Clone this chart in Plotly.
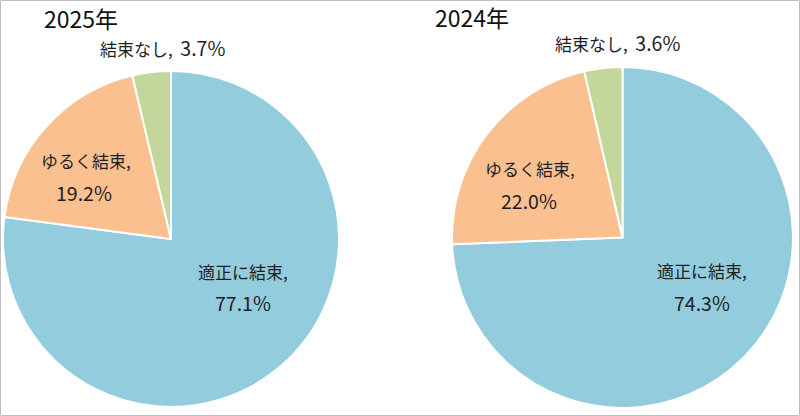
import plotly.graph_objects as go

# Data
years = ["2025年", "2024年"]
categories = ["適正に結束", "ゆるく結束", "結束なし"]
values_2025 = [77.1, 19.2, 3.7]
values_2024 = [74.3, 22.0, 3.6]
colors = ["#93CDDD", "#FAC090", "#C4D79B"]

W, H = 800, 416
FONT = "Noto Sans CJK JP"
TXT = "#1F1F1F"

def px(x):
    return x / W

def py(y):
    return 1 - y / H

fig = go.Figure()

pies = [
    (values_2025, [px(3), px(339)], [py(407), py(71)]),
    (values_2024, [px(452), px(793)], [py(408), py(67)]),
]
for vals, dx, dy in pies:
    fig.add_trace(go.Pie(
        labels=categories, values=vals, sort=False, direction="clockwise",
        rotation=0, textinfo="none", hoverinfo="label+percent",
        marker=dict(colors=colors, line=dict(color="white", width=2)),
        domain=dict(x=dx, y=dy), showlegend=False,
    ))

# Label positions (pixels) for each year
label_pos = [
    [((243, 271), (243, 302)), ((86, 160), (84, 192)), None],
    [((702, 270), (702, 302)), ((530, 168), (529, 200)), None],
]
outside_pos = [(162, 47), (617, 43)]
title_pos = [(42, 18), (433, 17)]

def num_span(v):
    return f"<span style='font-size:19.5px'>{v:.1f}%</span>"

annotations = []
for i, (yr, vals) in enumerate(zip(years, [values_2025, values_2024])):
    tx, ty = title_pos[i]
    annotations.append(dict(text=yr, x=px(tx), y=py(ty), xref="paper", yref="paper",
                            xanchor="left", yanchor="middle", showarrow=False,
                            font=dict(family=FONT, size=23, color="#111111")))
    for j, cat in enumerate(categories):
        pos = label_pos[i][j]
        if pos is None:
            ox, oy = outside_pos[i]
            annotations.append(dict(text=f"{cat},\u00a0\u00a0{num_span(vals[j])}", x=px(ox), y=py(oy),
                                    xref="paper", yref="paper", showarrow=False,
                                    xanchor="center", yanchor="middle",
                                    font=dict(family=FONT, size=17, color=TXT)))
        else:
            (nx, ny), (vx, vy) = pos
            annotations.append(dict(text=f"{cat},", x=px(nx), y=py(ny),
                                    xref="paper", yref="paper", showarrow=False,
                                    xanchor="center", yanchor="middle",
                                    font=dict(family=FONT, size=17, color=TXT)))
            annotations.append(dict(text=f"{vals[j]:.1f}%", x=px(vx), y=py(vy),
                                    xref="paper", yref="paper", showarrow=False,
                                    xanchor="center", yanchor="middle",
                                    font=dict(family=FONT, size=19.5, color=TXT)))

fig.update_layout(
    width=W, height=H, margin=dict(l=0, r=0, t=0, b=0),
    paper_bgcolor="white", plot_bgcolor="white",
    annotations=annotations,
    shapes=[dict(type="rect", xref="paper", yref="paper",
                 x0=0.5 / W, x1=1 - 0.5 / W, y0=0.5 / H, y1=1 - 0.5 / H,
                 line=dict(color="#BFBFBF", width=1))],
)

fig.write_html("out.html")
